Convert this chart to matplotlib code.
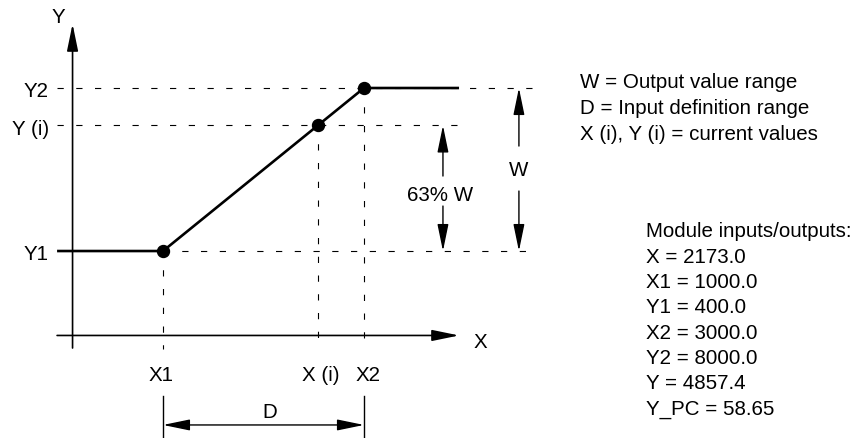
import matplotlib.pyplot as plt
from matplotlib.patches import ArrowStyle

plt.rcParams['font.family'] = ['Liberation Sans', 'DejaVu Sans']
plt.rcParams['lines.scale_dashes'] = False

# Kennlinie in normierten Einheiten: X1 -> 0, X2 -> 1 (Bereich D), Y1 -> 0, Y2 -> 1 (Bereich W)
x_break = [0.0, 1.0]
y_break = [0.0, 1.0]
x_cur = 0.77
y_cur = 0.77
x_start, x_end = -0.527, 1.473

x_labels = ["X1", "X (i)", "X2"]
y_labels = ["Y1", "Y (i)", "Y2"]

legend_lines = ["W = Output value range",
                "D = Input definition range",
                "X (i), Y (i) = current values"]

io_names = ["X", "X1", "Y1", "X2", "Y2", "Y", "Y_PC"]
io_values = [2173.0, 1000.0, 400.0, 3000.0, 8000.0, 4857.4, 58.65]
io_decimals = [1, 1, 1, 1, 1, 1, 2]

fs = 14.8
dash = (0, (4.5, 9))

fig = plt.figure(figsize=(8.64, 4.39), dpi=100)
ax = fig.add_axes([0, 0, 1, 1])
ax.set_xlim(-0.811, 3.488)
ax.set_ylim(-1.147, 1.546)
ax.axis('off')

y_axis_x = -0.45
x_axis_y = -0.518


def arrow(p_from, p_to, style='-|>', lw=1.2):
    ax.annotate('', xy=p_to, xytext=p_from,
                arrowprops=dict(arrowstyle=ArrowStyle(style, head_length=16.5, head_width=3.4),
                                mutation_scale=1, lw=lw, color='black',
                                shrinkA=0, shrinkB=0))


# Achsen
arrow((y_axis_x, -0.595), (y_axis_x, 1.393))
arrow((x_start, x_axis_y), (x_end, x_axis_y))
ax.annotate("Y", (y_axis_x, 1.393), xytext=(-10.5, 5), textcoords='offset points',
            ha='center', va='center', fontsize=fs)
ax.annotate("X", (x_end, x_axis_y), xytext=(15, -4.5), textcoords='offset points',
            ha='center', va='center', fontsize=fs)

# Hilfslinien
dkw = dict(color='black', lw=0.8, linestyle=dash)
ax.plot([x_start, 1.851], [y_break[1]] * 2, **dkw)
ax.plot([x_start, x_end], [y_cur] * 2, **dkw)
ax.plot([x_break[0], 1.851], [y_break[0]] * 2, **dkw)
ax.plot([x_break[0]] * 2, [y_break[0], -0.601], **dkw)
ax.plot([x_cur] * 2, [y_cur, -0.583], **dkw)
ax.plot([x_break[1]] * 2, [y_break[1], -0.601], **dkw)

# Kennlinie
ax.plot([x_start, x_break[0], x_break[1], x_end],
        [y_break[0], y_break[0], y_break[1], y_break[1]],
        color='black', lw=1.9, solid_capstyle='butt')
ax.plot([x_break[0], x_cur, x_break[1]], [y_break[0], y_cur, y_break[1]],
        'o', ms=8.6, color='black')

# Beschriftung der Achsenwerte
for name, yv in zip(y_labels, [y_break[0], y_cur, y_break[1]]):
    ax.annotate(name, (y_axis_x, yv), xytext=(-17, -2), textcoords='offset points',
                ha='right', va='center', fontsize=fs)
for name, xv, dx in zip(x_labels, [x_break[0], x_cur, x_break[1]], [-1.5, 2, 3]):
    ax.annotate(name, (xv, x_axis_y), xytext=(dx, -28), textcoords='offset points',
                ha='center', va='center', fontsize=fs)

# Bemaßung 63% W und W
arrow((1.393, 0.460), (1.393, y_cur), lw=1.0)
arrow((1.393, 0.276), (1.393, y_break[0]), lw=1.0)
ax.text(1.378, 0.344, "63% W", ha='center', va='center', fontsize=fs)
arrow((1.771, 0.644), (1.771, y_break[1]), lw=1.0)
arrow((1.771, 0.368), (1.771, y_break[0]), lw=1.0)
ax.text(1.771, 0.503, "W", ha='center', va='center', fontsize=fs)

# Bemaßung D
for xv in x_break:
    ax.plot([xv, xv], [-0.890, -1.147], color='black', lw=1.0)
arrow((x_break[0], -1.067), (x_break[1], -1.067), style='<|-|>', lw=1.0)
ax.text(0.532, -0.982, "D", ha='center', va='center', fontsize=fs)

# Legende rechts
for i, line in enumerate(legend_lines):
    ax.annotate(line, (580, 439 - 83 - 26 * i), xycoords='figure pixels',
                ha='left', va='center', fontsize=fs)

io_lines = ["Module inputs/outputs:"] + [
    f"{n} = {v:.{d}f}" for n, v, d in zip(io_names, io_values, io_decimals)]
for i, line in enumerate(io_lines):
    ax.annotate(line, (646, 439 - 232 - 25.3 * i), xycoords='figure pixels',
                ha='left', va='center', fontsize=fs)

fig.savefig('out.png', dpi=100)
